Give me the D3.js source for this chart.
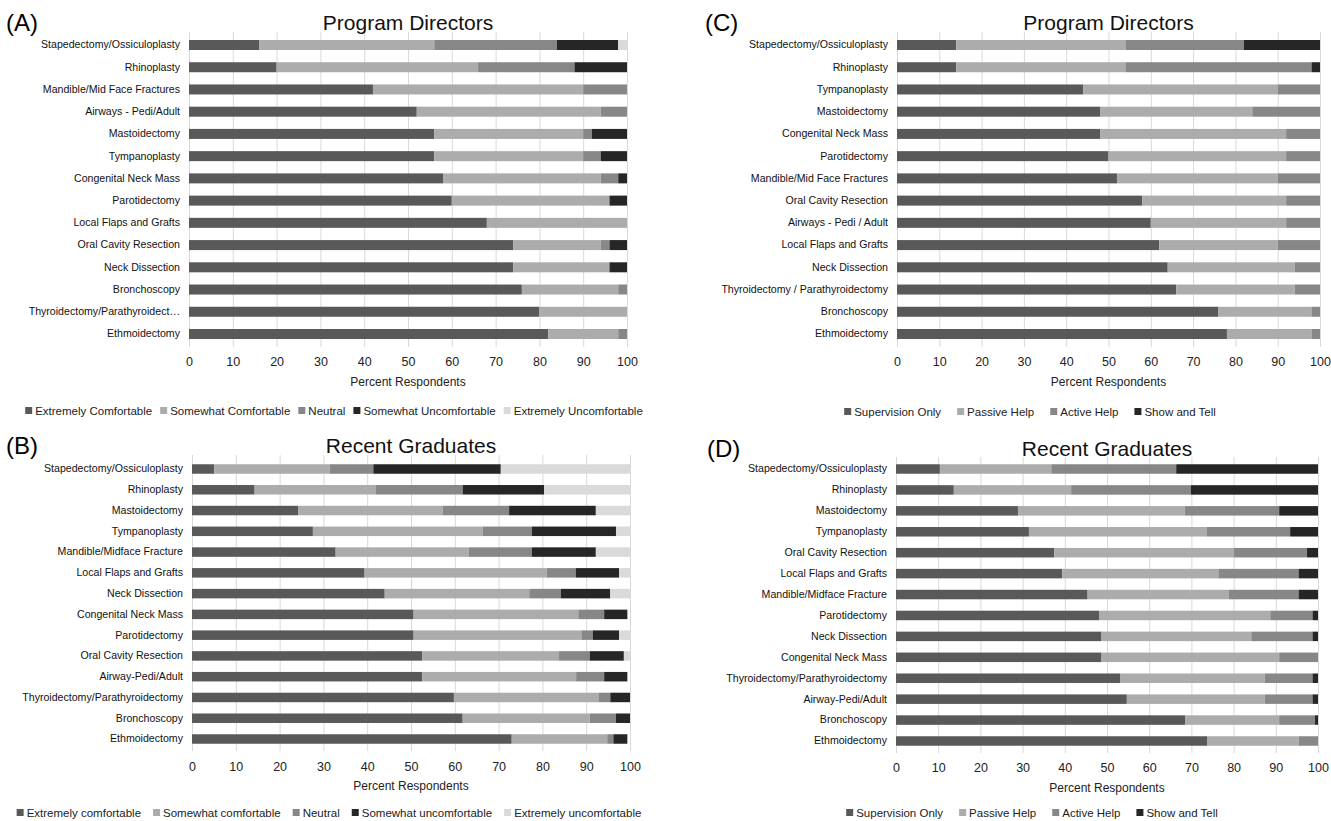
<!DOCTYPE html>
<html>
<head>
<meta charset="utf-8">
<script src="https://cdn.jsdelivr.net/npm/d3@7"></script>
<style>
  body { margin: 0; background: #fff; }
  svg { display: block; font-family: "Liberation Sans", Arial, sans-serif; }
  .cat text { font-size: 10.6px; fill: #111; }
  .ticks text { font-size: 12.5px; fill: #222; }
  .grid line { stroke: #d9d9d9; stroke-width: 1; }
</style>
</head>
<body>
<script>
//--- data ---

//(A) program directors, comfort
var catsA = ["Stapedectomy/Ossiculoplasty", "Rhinoplasty", "Mandible/Mid Face Fractures", "Airways - Pedi/Adult",
    "Mastoidectomy", "Tympanoplasty", "Congenital Neck Mass", "Parotidectomy", "Local Flaps and Grafts",
    "Oral Cavity Resection", "Neck Dissection", "Bronchoscopy", "Thyroidectomy/Parathyroidect…", "Ethmoidectomy"];
var extComfA   = [16, 20, 42, 52, 56, 56, 58, 60, 68, 74, 74, 76, 80, 82];
var someComfA  = [40, 46, 48, 42, 34, 34, 36, 36, 32, 20, 22, 22, 20, 16];
var neutralA   = [28, 22, 10, 6, 2, 4, 4, 0, 0, 2, 0, 2, 0, 2];
var someUncA   = [14, 12, 0, 0, 8, 6, 2, 4, 0, 4, 4, 0, 0, 0];
var extUncA    = [2, 0, 0, 0, 0, 0, 0, 0, 0, 0, 0, 0, 0, 0];
var legendA = ["Extremely Comfortable", "Somewhat Comfortable", "Neutral", "Somewhat Uncomfortable", "Extremely Uncomfortable"];

//(B) recent graduates, comfort
var catsB = ["Stapedectomy/Ossiculoplasty", "Rhinoplasty", "Mastoidectomy", "Tympanoplasty", "Mandible/Midface Fracture",
    "Local Flaps and Grafts", "Neck Dissection", "Congenital Neck Mass", "Parotidectomy", "Oral Cavity Resection",
    "Airway-Pedi/Adult", "Thyroidectomy/Parathyroidectomy", "Bronchoscopy", "Ethmoidectomy"];
var extComfB   = [5.1, 14.3, 24.3, 27.6, 32.8, 39.4, 44.0, 50.6, 50.6, 52.6, 52.6, 59.8, 61.8, 73.0];
var someComfB  = [26.3, 27.7, 32.9, 38.8, 30.4, 41.6, 33.0, 37.6, 38.3, 31.2, 35.1, 33.0, 29.0, 21.8];
var neutralB   = [10.0, 19.8, 15.2, 11.2, 14.4, 6.6, 7.2, 5.9, 2.6, 7.0, 6.4, 2.7, 6.0, 1.4];
var someUncB   = [29.1, 18.6, 19.8, 19.2, 14.6, 9.9, 11.3, 5.3, 6.0, 7.8, 5.3, 4.5, 3.2, 3.2];
var extUncB    = [29.5, 19.6, 7.8, 3.2, 7.8, 2.5, 4.5, 0, 2.5, 1.4, 0, 0, 0, 0];
var legendB = ["Extremely comfortable", "Somewhat comfortable", "Neutral", "Somewhat uncomfortable", "Extremely uncomfortable"];

//(C) program directors, help
var catsC = ["Stapedectomy/Ossiculoplasty", "Rhinoplasty", "Tympanoplasty", "Mastoidectomy", "Congenital Neck Mass",
    "Parotidectomy", "Mandible/Mid Face Fractures", "Oral Cavity Resection", "Airways - Pedi / Adult",
    "Local Flaps and Grafts", "Neck Dissection", "Thyroidectomy / Parathyroidectomy", "Bronchoscopy", "Ethmoidectomy"];
var supOnlyC   = [14, 14, 44, 48, 48, 50, 52, 58, 60, 62, 64, 66, 76, 78];
var passiveC   = [40, 40, 46, 36, 44, 42, 38, 34, 32, 28, 30, 28, 22, 20];
var activeC    = [28, 44, 10, 16, 8, 8, 10, 8, 8, 10, 6, 6, 2, 2];
var showTellC  = [18, 2, 0, 0, 0, 0, 0, 0, 0, 0, 0, 0, 0, 0];

//(D) recent graduates, help
var catsD = ["Stapedectomy/Ossiculoplasty", "Rhinoplasty", "Mastoidectomy", "Tympanoplasty", "Oral Cavity Resection",
    "Local Flaps and Grafts", "Mandible/Midface Fracture", "Parotidectomy", "Neck Dissection", "Congenital Neck Mass",
    "Thyroidectomy/Parathyroidectomy", "Airway-Pedi/Adult", "Bronchoscopy", "Ethmoidectomy"];
var supOnlyD   = [10.4, 13.7, 28.9, 31.5, 37.5, 39.4, 45.4, 48.1, 48.7, 48.7, 53.2, 54.7, 68.5, 73.7];
var passiveD   = [26.4, 27.8, 39.5, 42.1, 42.6, 37.0, 33.5, 40.6, 35.5, 42.1, 34.2, 32.7, 22.3, 21.7];
var activeD    = [29.6, 28.4, 22.4, 19.8, 17.3, 19.0, 16.5, 10.0, 14.5, 9.2, 11.3, 11.3, 8.5, 4.6];
var showTellD  = [33.6, 30.1, 9.2, 6.6, 2.6, 4.6, 4.6, 1.3, 1.3, 0, 1.3, 1.3, 0.7, 0];
var legendHelp = ["Supervision Only", "Passive Help", "Active Help", "Show and Tell"];

var xTicks = [0, 10, 20, 30, 40, 50, 60, 70, 80, 90, 100];
var shades = ["#595959", "#acacac", "#878787", "#262626", "#dadada"];

var svg = d3.select("body").append("svg")
    .attr("width", 1331)
    .attr("height", 821);

drawPanel({letter: "(A)", letterX: 6, letterY: 23, title: "Program Directors", titleY: 23,
    cats: catsA, series: [extComfA, someComfA, neutralA, someUncA, extUncA], legend: legendA,
    x0: 189, x1: 627, firstY: 45, lastY: 334, barH: 10, gridTop: 32, gridBottom: 347,
    tickY: 362, axisTitleY: 382, legendY: 411, legendCx: 334, legendGap: 8, legendSize: 11.5});

drawPanel({letter: "(B)", letterX: 6, letterY: 446, title: "Recent Graduates", titleY: 446,
    cats: catsB, series: [extComfB, someComfB, neutralB, someUncB, extUncB], legend: legendB,
    x0: 192, x1: 630, firstY: 469, lastY: 739, barH: 9.5, gridTop: 455, gridBottom: 751,
    tickY: 767, axisTitleY: 786, legendY: 813, legendCx: 329, legendGap: 12, legendSize: 11.5});

drawPanel({letter: "(C)", letterX: 705, letterY: 23, title: "Program Directors", titleY: 23,
    cats: catsC, series: [supOnlyC, passiveC, activeC, showTellC], legend: legendHelp,
    x0: 897, x1: 1320, firstY: 45, lastY: 334, barH: 10, gridTop: 32, gridBottom: 347,
    tickY: 362, axisTitleY: 382, legendY: 412, legendCx: 1030, legendGap: 16, legendSize: 11.5});

drawPanel({letter: "(D)", letterX: 707, letterY: 449, title: "Recent Graduates", titleY: 449,
    cats: catsD, series: [supOnlyD, passiveD, activeD, showTellD], legend: legendHelp,
    x0: 896, x1: 1318, firstY: 469, lastY: 741, barH: 9.5, gridTop: 457, gridBottom: 753,
    tickY: 768, axisTitleY: 788, legendY: 813, legendCx: 1032, legendGap: 16, legendSize: 11.5});

function drawPanel(p){
    var n = p.cats.length;
    var step = (p.lastY - p.firstY) / (n - 1);
    var pad = 1 - p.barH / step;

    var x = d3.scaleLinear().domain([0, 100]).range([p.x0, p.x1]);
    var y = d3.scaleBand()
        .domain(p.cats)
        .range([p.firstY - step / 2, p.lastY + step / 2])
        .paddingInner(pad)
        .paddingOuter(pad / 2);

    var g = svg.append("g");

    //vertical gridlines
    g.append("g")
        .attr("class", "grid")
        .attr("transform", "translate(0," + p.gridBottom + ")")
        .call(d3.axisBottom(x).tickValues(xTicks).tickSize(-(p.gridBottom - p.gridTop)).tickFormat(""))
        .call(function(s){ s.select(".domain").remove(); });

    //rows as objects for the stack
    var keys = p.series.map(function(d, i){ return "s" + i; });
    var rows = p.cats.map(function(c, i){
        var r = {cat: c};
        p.series.forEach(function(arr, k){ r[keys[k]] = arr[i]; });
        return r;
    });
    var stacked = d3.stack().keys(keys)(rows);

    g.selectAll(".layer")
        .data(stacked)
        .enter()
        .append("g")
        .attr("fill", function(d, i){ return shades[i]; })
        .selectAll("rect")
        .data(function(d){ return d; })
        .enter()
        .append("rect")
        .attr("x", function(d){ return x(d[0]); })
        .attr("width", function(d){ return Math.max(0, x(d[1]) - x(d[0])); })
        .attr("y", function(d){ return y(d.data.cat); })
        .attr("height", y.bandwidth());

    //category labels
    g.append("g")
        .attr("class", "cat")
        .attr("transform", "translate(" + p.x0 + ",0)")
        .call(d3.axisLeft(y).tickSize(0).tickPadding(9))
        .call(function(s){ s.select(".domain").remove(); });

    //x tick labels
    g.append("g")
        .attr("class", "ticks")
        .attr("transform", "translate(0," + p.tickY + ")")
        .call(d3.axisBottom(x).tickValues(xTicks).tickSize(0).tickPadding(0))
        .call(function(s){
            s.select(".domain").remove();
            s.selectAll("text").attr("y", 0).attr("dy", "0.35em");
        });

    g.append("text")
        .attr("x", (p.x0 + p.x1) / 2)
        .attr("y", p.axisTitleY)
        .attr("dy", "0.35em")
        .attr("text-anchor", "middle")
        .style("font-size", "12px")
        .style("fill", "#222")
        .text("Percent Respondents");

    //panel title and letter
    g.append("text")
        .attr("x", (p.x0 + p.x1) / 2)
        .attr("y", p.titleY)
        .attr("dy", "0.35em")
        .attr("text-anchor", "middle")
        .style("font-size", "21px")
        .style("fill", "#111")
        .text(p.title);

    g.append("text")
        .attr("x", p.letterX)
        .attr("y", p.letterY)
        .attr("dy", "0.35em")
        .style("font-size", "24px")
        .style("fill", "#000")
        .text(p.letter);

    //legend, laid out left to right then centred
    var leg = g.append("g");
    var cx = 0;
    p.legend.forEach(function(name, i){
        var item = leg.append("g").attr("transform", "translate(" + cx + ",0)");
        item.append("rect")
            .attr("x", 0).attr("y", -4)
            .attr("width", 7).attr("height", 7)
            .attr("fill", shades[i]);
        var t = item.append("text")
            .attr("x", 10)
            .attr("dy", "0.35em")
            .style("font-size", p.legendSize + "px")
            .style("fill", "#222")
            .text(name);
        cx += 10 + t.node().getComputedTextLength() + p.legendGap;
    });
    var total = cx - p.legendGap;
    leg.attr("transform", "translate(" + (p.legendCx - total / 2) + "," + p.legendY + ")");
}
</script>
</body>
</html>
